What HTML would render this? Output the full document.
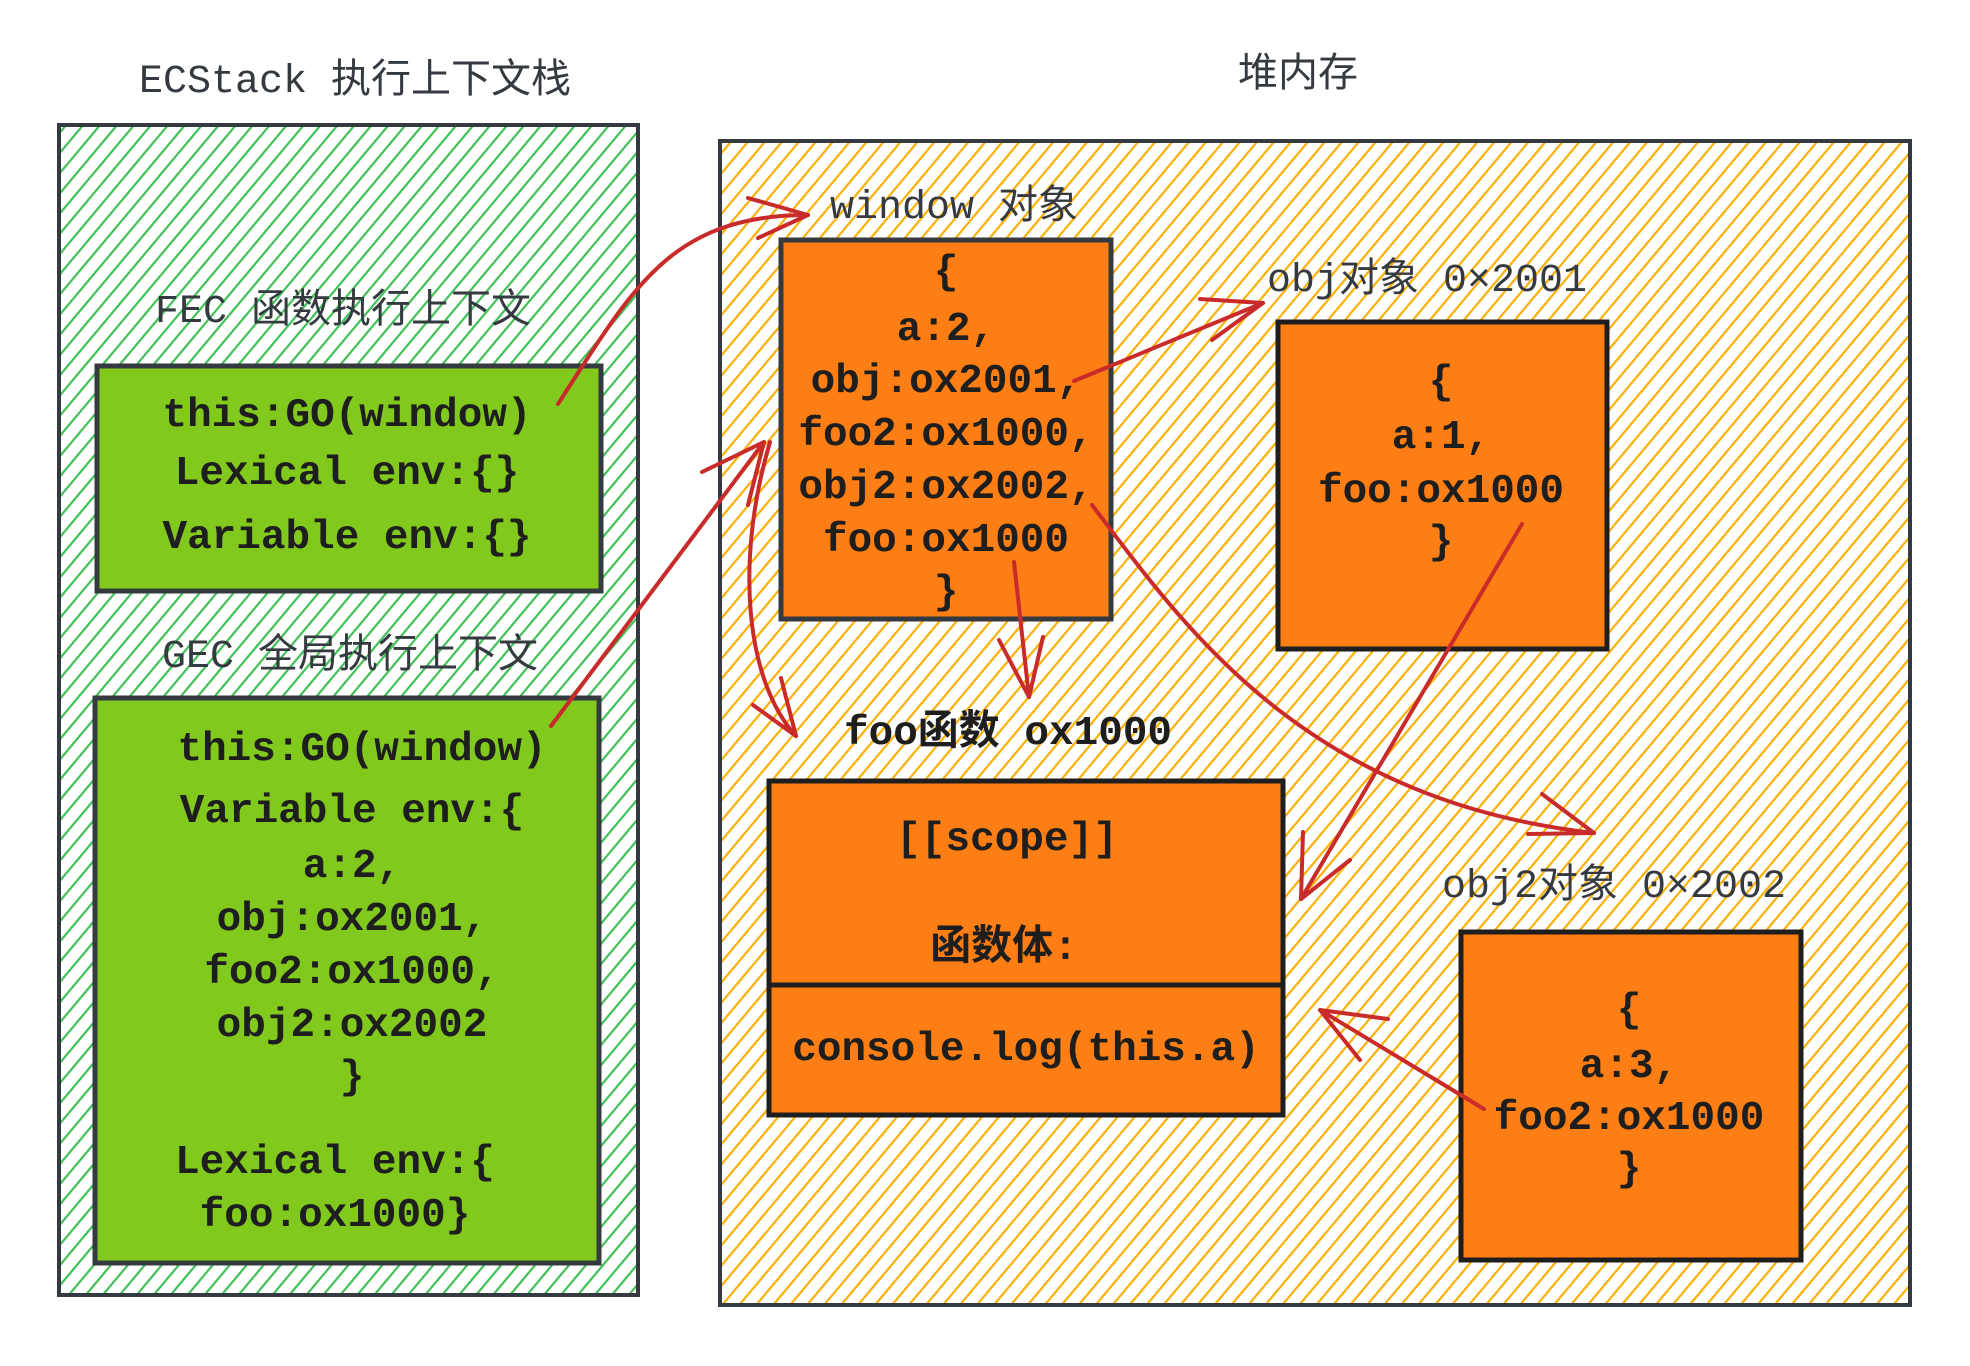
<!DOCTYPE html>
<html><head><meta charset="utf-8"><style>
html,body{margin:0;padding:0;background:#fff;}
svg{display:block}
text{font-family:"Liberation Mono","Noto Sans CJK SC",monospace;fill:#343a40;}
.t{font-size:40px;}
.b{font-size:41px;font-weight:bold;fill:#1e1e1e;}
.a{fill:none;stroke:#c92a2a;stroke-width:4;stroke-linecap:round;stroke-linejoin:round;}
</style></head><body>
<svg width="1970" height="1366" viewBox="0 0 1970 1366" xmlns="http://www.w3.org/2000/svg">
<defs>
<pattern id="pg" width="13" height="13" patternUnits="userSpaceOnUse" patternTransform="rotate(40)">
<rect width="13" height="13" fill="#fff"/><rect x="0" y="0" width="2.2" height="13" fill="#40c057"/></pattern>
<pattern id="po" width="13" height="13" patternUnits="userSpaceOnUse" patternTransform="rotate(40)">
<rect width="13" height="13" fill="#fff"/><rect x="0" y="0" width="2.2" height="13" fill="#fab005"/></pattern>
</defs>

<text class="t" x="355" y="92" text-anchor="middle">ECStack 执行上下文栈</text>
<text class="t" x="1298" y="86" text-anchor="middle">堆内存</text>

<rect x="59" y="125" width="579" height="1170" fill="url(#pg)" stroke="#343a40" stroke-width="4"/>
<rect x="720" y="141" width="1190" height="1164" fill="url(#po)" stroke="#343a40" stroke-width="4"/>

<text class="t" x="343" y="322" text-anchor="middle">FEC 函数执行上下文</text>
<rect x="97" y="366" width="504" height="225" fill="#82c91e" stroke="#343a40" stroke-width="5"/>
<g class="b" text-anchor="middle">
<text class="b" x="347" y="426" text-anchor="middle">this:GO(window)</text>
<text class="b" x="347" y="484" text-anchor="middle">Lexical env:{}</text>
<text class="b" x="347" y="548" text-anchor="middle">Variable env:{}</text>
</g>

<text class="t" x="350" y="667" text-anchor="middle">GEC 全局执行上下文</text>
<rect x="95" y="698" width="504" height="565" fill="#82c91e" stroke="#343a40" stroke-width="5"/>
<text class="b" x="362" y="760" text-anchor="middle">this:GO(window)</text>
<text class="b" x="352" y="822" text-anchor="middle">Variable env:{</text>
<text class="b" x="352" y="877" text-anchor="middle">a:2,</text>
<text class="b" x="352" y="930" text-anchor="middle">obj:ox2001,</text>
<text class="b" x="352" y="983" text-anchor="middle">foo2:ox1000,</text>
<text class="b" x="352" y="1036" text-anchor="middle">obj2:ox2002</text>
<text class="b" x="352" y="1088" text-anchor="middle">}</text>
<text class="b" x="335" y="1173" text-anchor="middle">Lexical env:{</text>
<text class="b" x="335" y="1226" text-anchor="middle">foo:ox1000}</text>

<text class="t" x="830" y="218">window 对象</text>
<rect x="781" y="240" width="330" height="379" fill="#fd7e14" stroke="#343a40" stroke-width="5"/>
<text class="b" x="946" y="283" text-anchor="middle">{</text>
<text class="b" x="946" y="340" text-anchor="middle">a:2,</text>
<text class="b" x="946" y="392" text-anchor="middle">obj:ox2001,</text>
<text class="b" x="946" y="445" text-anchor="middle">foo2:ox1000,</text>
<text class="b" x="946" y="498" text-anchor="middle">obj2:ox2002,</text>
<text class="b" x="946" y="551" text-anchor="middle">foo:ox1000</text>
<text class="b" x="946" y="603" text-anchor="middle">}</text>

<text class="t" x="1267" y="291">obj对象 0×2001</text>
<rect x="1278" y="322" width="329" height="327" fill="#fd7e14" stroke="#1e1e1e" stroke-width="5"/>
<text class="b" x="1441" y="393" text-anchor="middle">{</text>
<text class="b" x="1441" y="448" text-anchor="middle">a:1,</text>
<text class="b" x="1441" y="502" text-anchor="middle">foo:ox1000</text>
<text class="b" x="1441" y="553" text-anchor="middle">}</text>

<text class="b" x="844" y="744" style="font-weight:bold">foo函数 ox1000</text>
<rect x="769" y="781" width="514" height="334" fill="#fd7e14" stroke="#1e1e1e" stroke-width="5"/>
<line x1="769" y1="985" x2="1283" y2="985" stroke="#1e1e1e" stroke-width="5"/>
<text class="b" x="1007" y="850" text-anchor="middle">[[scope]]</text>
<text class="b" x="1004" y="959" text-anchor="middle">函数体:</text>
<text class="b" x="1026" y="1060" text-anchor="middle">console.log(this.a)</text>

<text class="t" x="1442" y="897">obj2对象 0×2002</text>
<rect x="1461" y="932" width="340" height="328" fill="#fd7e14" stroke="#1e1e1e" stroke-width="5"/>
<text class="b" x="1629" y="1021" text-anchor="middle">{</text>
<text class="b" x="1629" y="1077" text-anchor="middle">a:3,</text>
<text class="b" x="1629" y="1129" text-anchor="middle">foo2:ox1000</text>
<text class="b" x="1629" y="1180" text-anchor="middle">}</text>

<!-- arrows -->
<path class="a" d="M558 404 C632 290 669 215 808 215"/>
<path class="a" d="M748 198 L808 215 L758 238"/>
<path class="a" d="M551 726 L764 442"/>
<path class="a" d="M702 472 L764 442 L748 505"/>
<path class="a" d="M1074 381 L1263 303"/>
<path class="a" d="M1200 299 L1263 303 L1212 340"/>
<path class="a" d="M1092 505 C1180 620 1300 800 1594 833"/>
<path class="a" d="M1542 794 L1594 833 L1528 834"/>
<path class="a" d="M1014 562 L1029 697"/>
<path class="a" d="M999 640 L1029 697 L1043 637"/>
<path class="a" d="M770 442 C735 560 745 680 796 736"/>
<path class="a" d="M753 705 L796 736 L781 678"/>
<path class="a" d="M1522 524 L1301 899"/>
<path class="a" d="M1303 832 L1301 899 L1350 860"/>
<path class="a" d="M1484 1109 L1320 1010"/>
<path class="a" d="M1388 1019 L1320 1010 L1360 1060"/>
</svg>
</body></html>
